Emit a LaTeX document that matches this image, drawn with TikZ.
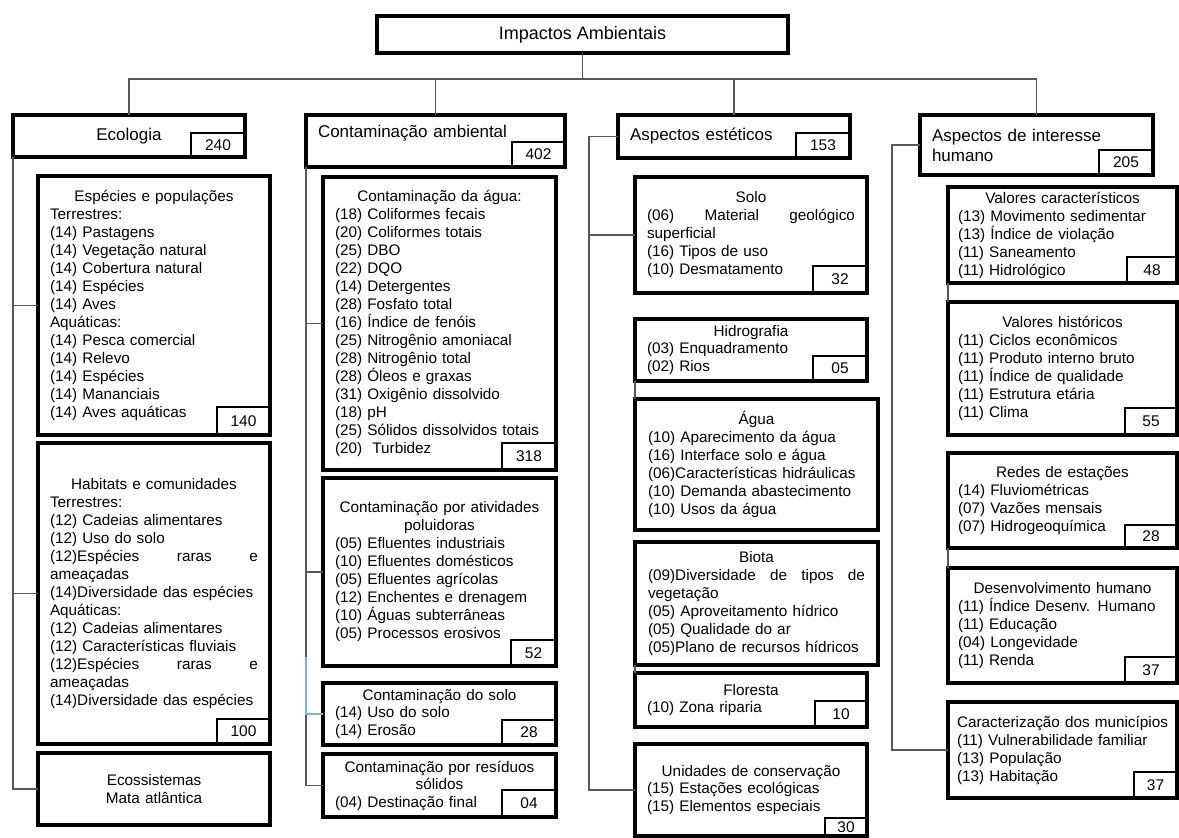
\documentclass[tikz,border=0pt]{standalone}
\usepackage{fontspec}
\setmainfont{Liberation Sans}
\usetikzlibrary{calc}

\definecolor{linegray}{RGB}{88,88,88}
\definecolor{lineblue}{RGB}{140,172,214}

\newcommand\txtbody{\fontsize{15.3}{18}\selectfont}
\newcommand\txthead{\fontsize{17}{20}\selectfont}
\newcommand\txttop{\fontsize{18}{21}\selectfont}
\newcommand\txtnum{\fontsize{15.5}{18}\selectfont}
\newcommand\ttl[1]{\makebox[\linewidth]{#1}}
\newcommand\jst[1]{\makebox[\linewidth][l]{#1}}

\begin{document}
\begin{tikzpicture}[x=1pt, y=-1pt,
  hbox/.style={draw, line width=3.2pt, anchor=north west, inner sep=0pt, outer sep=0pt, font=\txthead, align=center},
  sub/.style={draw, line width=3.2pt, anchor=north west, inner sep=0pt, outer sep=0pt, font=\txtbody, align=left},
  tight/.style={font=\fontsize{15.3}{17.5}\selectfont},
  num/.style={draw, line width=2.8pt, anchor=south east, inner sep=0pt, outer sep=0pt, font=\txtnum},
  conn/.style={draw=linegray, line width=1.4pt},
  connblue/.style={draw=lineblue, line width=1.4pt},
]
  \path[use as bounding box] (0,0) rectangle (1179,838);

  % top level and the four groups
  \node[hbox, font=\txttop, minimum width=411pt, minimum height=37pt] (top) at (377,16) {Impactos Ambientais};
  \node[hbox, minimum width=232pt, minimum height=42pt] (eco) at (13,115) {Ecologia};
  \node[hbox, align=left, text width=235pt, minimum width=259pt, minimum height=52pt] (con) at (306,115) {Contaminação ambiental\\\mbox{}};
  \node[hbox, align=left, text width=208pt, minimum width=232pt, minimum height=43pt] (est) at (618,115) {Aspectos estéticos};
  \node[hbox, align=left, text width=209pt, minimum width=233pt, minimum height=60pt] (hum) at (920,115) {Aspectos de interesse\\humano};

  \node[num, minimum width=54pt, minimum height=24pt] (n240) at (eco.south east) {240};
  \node[num, minimum width=53pt, minimum height=25pt] (n402) at (con.south east) {402};
  \node[num, minimum width=54pt, minimum height=25pt] (n153) at (est.south east) {153};
  \node[num, minimum width=54pt, minimum height=25pt] (n205) at (hum.south east) {205};

  % Ecologia
  \node[sub, text width=208pt, minimum width=232pt, minimum height=259pt] (esp) at (38,176) {%
    \ttl{Espécies e populações}\\
    Terrestres:\\
    (14) Pastagens\\
    (14) Vegetação natural\\
    (14) Cobertura natural\\
    (14) Espécies\\
    (14) Aves\\
    Aquáticas:\\
    (14) Pesca comercial\\
    (14) Relevo\\
    (14) Espécies\\
    (14) Mananciais\\
    (14) Aves aquáticas};
  \node[sub, text width=208pt, minimum width=232pt, minimum height=301pt] (hab) at (38,443) {%
    \ttl{Habitats e comunidades}\\
    Terrestres:\\
    (12) Cadeias alimentares\\
    (12) Uso do solo\\
    \jst{(12)Espécies\hfill raras\hfill e}\\
    ameaçadas\\
    (14)Diversidade das espécies\\
    Aquáticas:\\
    (12) Cadeias alimentares\\
    (12) Características fluviais\\
    \jst{(12)Espécies\hfill raras\hfill e}\\
    ameaçadas\\
    (14)Diversidade das espécies};
  \node[sub, text width=208pt, minimum width=232pt, minimum height=72pt] (ecos) at (38,753) {%
    \ttl{Ecossistemas}\\
    \ttl{Mata atlântica}};
  \node[num, minimum width=53pt, minimum height=28pt] (n140) at (esp.south east) {140};
  \node[num, minimum width=53pt, minimum height=25pt] (n100) at (hab.south east) {100};

  % Contaminação ambiental
  \node[sub, text width=209pt, minimum width=233pt, minimum height=293pt] (agua) at (323,177) {%
    \ttl{Contaminação da água:}\\
    (18) Coliformes fecais\\
    (20) Coliformes totais\\
    (25) DBO\\
    (22) DQO\\
    (14) Detergentes\\
    (28) Fosfato total\\
    (16) Índice de fenóis\\
    (25) Nitrogênio amoniacal\\
    (28) Nitrogênio total\\
    (28) Óleos e graxas\\
    (31) Oxigênio dissolvido\\
    (18) pH\\
    (25) Sólidos dissolvidos totais\\
    (20) \ Turbidez};
  \node[sub, text width=209pt, minimum width=233pt, minimum height=188pt] (polu) at (323,478) {%
    \ttl{Contaminação por atividades}\\
    \ttl{poluidoras}\\
    (05) Efluentes industriais\\
    (10) Efluentes domésticos\\
    (05) Efluentes agrícolas\\
    (12) Enchentes e drenagem\\
    (10) Águas subterrâneas\\
    (05) Processos erosivos};
  \node[sub, tight, text width=209pt, minimum width=233pt, minimum height=62pt] (csolo) at (323,683) {%
    \ttl{Contaminação do solo}\\
    (14) Uso do solo\\
    (14) Erosão};
  \node[sub, tight, text width=209pt, minimum width=233pt, minimum height=63pt] (resid) at (323,754) {%
    \ttl{Contaminação por resíduos}\\
    \ttl{sólidos}\\
    (04) Destinação final};
  \node[num, minimum width=54pt, minimum height=27pt] (n318) at (agua.south east) {318};
  \node[num, minimum width=45pt, minimum height=26pt] (n52) at (polu.south east) {52};
  \node[num, minimum width=54pt, minimum height=25pt] (n28a) at (csolo.south east) {28};
  \node[num, minimum width=54pt, minimum height=27pt] (n04) at (resid.south east) {04};

  % Aspectos estéticos
  \node[sub, text width=208pt, minimum width=232pt, minimum height=116pt] (solo) at (635,177) {%
    \ttl{Solo}\\
    \jst{(06)\hfill Material\hfill geológico}\\
    superficial\\
    (16) Tipos de uso\\
    (10) Desmatamento};
  \node[sub, tight, text width=208pt, minimum width=232pt, minimum height=62pt] (hidro) at (635,319) {%
    \ttl{Hidrografia}\\
    (03) Enquadramento\\
    (02) Rios};
  \node[sub, text width=217pt, minimum width=243pt, minimum height=131pt] (aguae) at (635,399) {%
    \ttl{Água}\\
    (10) Aparecimento da água\\
    (16) Interface solo e água\\
    (06)Características hidráulicas\\
    (10) Demanda abastecimento\\
    (10) Usos da água};
  \node[sub, text width=217pt, minimum width=243pt, minimum height=123pt] (biota) at (635,542) {%
    \ttl{Biota}\\
    \jst{(09)Diversidade\hfill de\hfill tipos\hfill de}\\
    vegetação\\
    (05) Aproveitamento hídrico\\
    (05) Qualidade do ar\\
    (05)Plano de recursos hídricos};
  \node[sub, font=\fontsize{15.3}{17}\selectfont, text width=208pt, minimum width=232pt, minimum height=54pt] (flor) at (635,673) {%
    \ttl{Floresta}\\
    (10) Zona riparia};
  \node[sub, tight, text width=208pt, minimum width=232pt, minimum height=92pt] (unid) at (635,744) {%
    \ttl{Unidades de conservação}\\
    (15) Estações ecológicas\\
    (15) Elementos especiais};
  \node[num, minimum width=54pt, minimum height=27pt] (n32) at (solo.south east) {32};
  \node[num, minimum width=54pt, minimum height=25pt] (n05) at (hidro.south east) {05};
  \node[num, minimum width=52pt, minimum height=26pt] (n10) at (flor.south east) {10};
  \node[num, minimum width=42pt, minimum height=18pt] (n30) at (unid.south east) {30};

  % Aspectos de interesse humano
  \node[sub, text width=209pt, minimum width=229pt, minimum height=96pt] (vcar) at (948,187) {%
    \ttl{Valores característicos}\\
    (13) Movimento sedimentar\\
    (13) Índice de violação\\
    (11) Saneamento\\
    (11) Hidrológico};
  \node[sub, text width=209pt, minimum width=229pt, minimum height=133pt] (vhist) at (948,302) {%
    \ttl{Valores históricos}\\
    (11) Ciclos econômicos\\
    (11) Produto interno bruto\\
    (11) Índice de qualidade\\
    (11) Estrutura etária\\
    (11) Clima};
  \node[sub, text width=209pt, minimum width=229pt, minimum height=95pt] (redes) at (948,453) {%
    \ttl{Redes de estações}\\
    (14) Fluviométricas\\
    (07) Vazões mensais\\
    (07) Hidrogeoquímica};
  \node[sub, text width=209pt, minimum width=229pt, minimum height=115pt] (desenv) at (948,568) {%
    \ttl{Desenvolvimento humano}\\
    (11) Índice Desenv. Humano\\
    (11) Educação\\
    (04) Longevidade\\
    (11) Renda};
  \node[sub, text width=211pt, minimum width=229pt, minimum height=96pt] (carac) at (948,702) {%
    \ttl{Caracterização dos municípios}\\
    (11) Vulnerabilidade familiar\\
    (13) População\\
    (13) Habitação};
  \node[num, minimum width=50pt, minimum height=26pt] (n48) at (vcar.south east) {48};
  \node[num, minimum width=52pt, minimum height=27pt] (n55) at (vhist.south east) {55};
  \node[num, minimum width=52pt, minimum height=23pt] (n28b) at (redes.south east) {28};
  \node[num, minimum width=52pt, minimum height=26pt] (n37a) at (desenv.south east) {37};
  \node[num, minimum width=43pt, minimum height=26pt] (n37b) at (carac.south east) {37};

  % tree lines
  \draw[conn] (top.south) -- ++(0,26) coordinate (bus);
  \draw[conn] (eco.north) |- (bus) -| (hum.north);
  \draw[conn] (con.north) -- (con.north |- bus);
  \draw[conn] (est.north) -- (est.north |- bus);

  \draw[conn] (eco.south west) |- (ecos.west);
  \draw[conn] (eco.south west |- esp.west) -- (esp.west);
  \draw[conn] (eco.south west |- hab.west) -- (hab.west);

  \draw[conn] (con.south west) |- (resid.west);
  \foreach \b in {agua, polu}
    \draw[conn] (con.south west |- \b.west) -- (\b.west);
  \draw[connblue] (csolo.west) -| ($(con.south west |- csolo.west)+(0,-57)$);

  \coordinate (estb) at ($(est.west)+(-29,0)$);
  \draw[conn] (est.west) -- (estb) |- (unid.west);
  \draw[conn] (estb |- solo.west) -- (solo.west);
  \draw[conn] (hidro.south west) -- (aguae.north west);
  \draw[conn] (biota.south west) -- (flor.north west);

  \coordinate (humb) at ($(hum.west)+(-28,0)$);
  \draw[conn] (hum.west) -- (humb) |- (carac.west);
  \draw[conn] (vcar.south west) -- (vhist.north west);
  \draw[conn] (redes.south west) -- (desenv.north west);
\end{tikzpicture}
\end{document}
